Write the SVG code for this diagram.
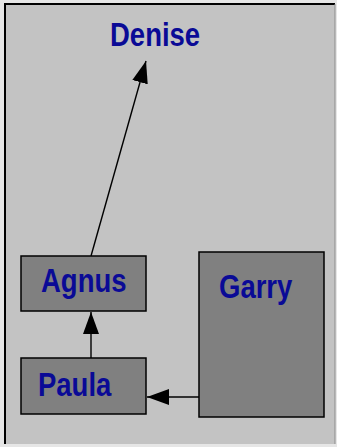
<svg xmlns="http://www.w3.org/2000/svg" width="337" height="447" viewBox="0 0 337 447">
<style>
.box{fill:#808080;stroke:#000;stroke-width:1.5}
.lbl{font-family:"Liberation Sans",Arial,sans-serif;font-weight:bold;font-size:27.5px;fill:#0a0a96}
.edge{stroke:#000;stroke-width:1.4;fill:none}
</style>
<defs>
<marker id="ah" viewBox="0 0 22 16" refX="22" refY="8" markerWidth="22" markerHeight="16" markerUnits="userSpaceOnUse" orient="auto">
<path d="M0,0 L22,8 L0,16 Z" fill="#000"/>
</marker>
</defs>
<rect x="0" y="0" width="337" height="447" fill="#e6e6e6"/>
<rect x="4" y="3" width="331" height="441" fill="#c3c3c3"/>
<path d="M5,444 V4 H335" stroke="#000" stroke-width="2" fill="none"/>
<path d="M335,4 V444" stroke="#8a8a8a" stroke-width="1" fill="none"/>
<g id="connectors">
<line class="edge" x1="91" y1="256" x2="146" y2="61" marker-end="url(#ah)"/>
<line class="edge" x1="91" y1="358" x2="91" y2="312" marker-end="url(#ah)"/>
<line class="edge" x1="199" y1="397" x2="147" y2="397" marker-end="url(#ah)"/>
</g>
<g id="denise">
<text class="lbl" transform="translate(110,46) scale(1,1.22)">Denise</text>
</g>
<g id="agnus">
<rect class="box" x="21" y="256" width="125" height="55"/>
<text class="lbl" transform="translate(41,292) scale(1,1.2)">Agnus</text>
</g>
<g id="paula">
<rect class="box" x="21" y="358" width="125" height="56"/>
<text class="lbl" transform="translate(38,396) scale(1,1.2)">Paula</text>
</g>
<g id="garry">
<rect class="box" x="199" y="252" width="125" height="165"/>
<text class="lbl" transform="translate(219,298) scale(1,1.2)">Garry</text>
</g>
</svg>
